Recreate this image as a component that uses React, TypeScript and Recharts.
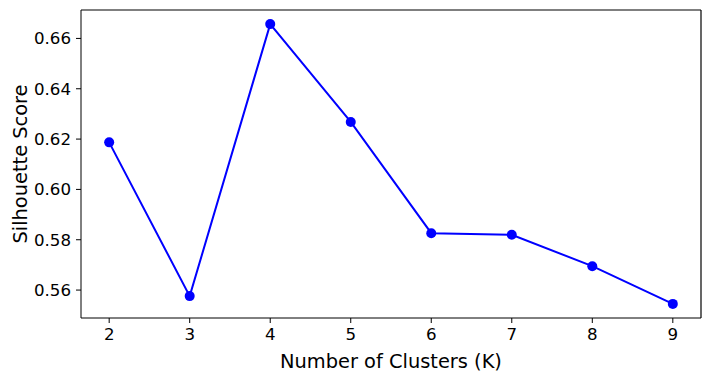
import { LineChart, Line, XAxis, YAxis, ReferenceLine } from "recharts";

const clusters = [2, 3, 4, 5, 6, 7, 8, 9];
const scores = [0.6187, 0.5576, 0.6657, 0.6268, 0.5826, 0.5820, 0.5695, 0.5545];
const xTicks = [2, 3, 4, 5, 6, 7, 8, 9];
const yTicks = [0.56, 0.58, 0.6, 0.62, 0.64, 0.66];

const xDomain = [1.65, 9.35];
const yDomain = [0.5489, 0.6713];

const data = clusters.map((k, i) => ({ k, score: scores[i] }));

const tickStyle = { fill: "#000", fontSize: 16.67 };

export default function App() {
  return (
    <div style={{ position: "absolute", left: 0, top: 0, background: "#fff" }}>
      <LineChart
        width={711}
        height={380}
        data={data}
        margin={{ top: 10, right: 10, bottom: 0, left: 0 }}
        style={{ fontFamily: "DejaVu Sans" }}
      >
        <XAxis
          dataKey="k"
          type="number"
          domain={xDomain}
          ticks={xTicks}
          height={62}
          tick={tickStyle}
          tickSize={5}
          tickMargin={5}
          stroke="#000"
          allowDataOverflow
          label={{
            value: "Number of Clusters (K)",
            position: "insideBottom",
            offset: 12,
            fill: "#000",
            fontSize: 19.4,
          }}
        />
        <YAxis
          type="number"
          domain={yDomain}
          ticks={yTicks}
          width={81}
          tick={tickStyle}
          tickSize={5}
          tickMargin={5}
          stroke="#000"
          allowDataOverflow
          tickFormatter={(v: number) => v.toFixed(2)}
          label={{
            value: "Silhouette Score",
            angle: -90,
            position: "insideLeft",
            offset: 20,
            fill: "#000",
            fontSize: 19.4,
            style: { textAnchor: "middle" },
          }}
        />
        {/* top and right frame */}
        <ReferenceLine y={yDomain[1]} stroke="#000" strokeOpacity={1} strokeWidth={1.2} ifOverflow="extendDomain" />
        <ReferenceLine x={xDomain[1]} stroke="#000" strokeOpacity={1} strokeWidth={1.2} ifOverflow="extendDomain" />
        <Line
          dataKey="score"
          stroke="#0000ff"
          strokeWidth={2}
          dot={{ r: 5, fill: "#0000ff", stroke: "#0000ff", strokeWidth: 0 }}
          activeDot={false}
          isAnimationActive={false}
        />
      </LineChart>
    </div>
  );
}
